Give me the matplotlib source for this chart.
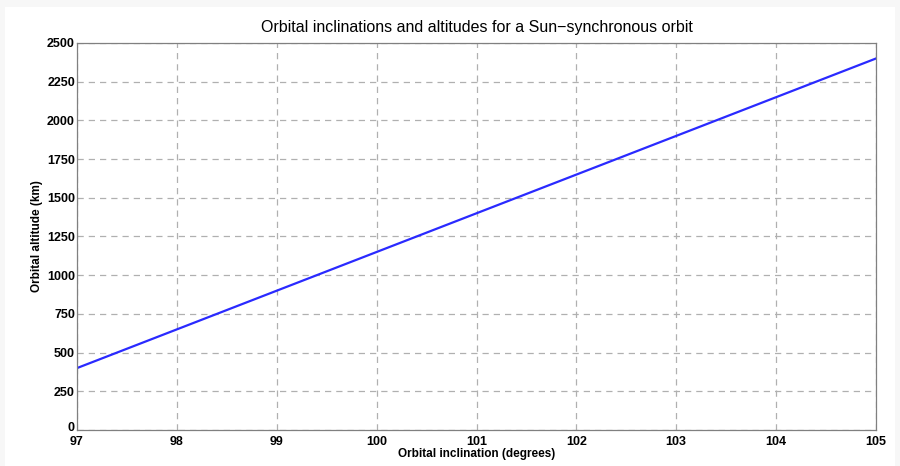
import matplotlib
matplotlib.use("Agg")
import matplotlib.pyplot as plt
import matplotlib.transforms as mtransforms
from matplotlib.patches import Rectangle

# inclination (degrees) vs altitude (km)
inclination = [97, 98, 99, 100, 101, 102, 103, 104, 105]
altitude = [400, 650, 900, 1150, 1400, 1650, 1900, 2150, 2400]

xticks = [97, 98, 99, 100, 101, 102, 103, 104, 105]
yticks = [0, 250, 500, 750, 1000, 1250, 1500, 1750, 2000, 2250, 2500]

plt.rcParams['font.family'] = ['Liberation Sans', 'DejaVu Sans']

fig = plt.figure(figsize=(9, 4.66), dpi=100, facecolor='#f7f7f7')
# white page inside a thin grey margin
fig.patches.append(Rectangle((5/900, 0), 1 - 10/900, 1 - 7/466,
                             transform=fig.transFigure, facecolor='white',
                             edgecolor='none', zorder=-10))

ax = fig.add_axes([77/900, 1 - 430/466, (876-77)/900, (430-43)/466])
ax.set_zorder(5)
ax.plot(inclination, altitude, color='#2a2aff', lw=1.6)

ax.set_xlim(97, 105)
ax.set_ylim(0, 2500)
ax.set_xticks(xticks)
ax.set_yticks(yticks)
ax.set_xticklabels([str(t) for t in xticks], fontweight='bold', fontsize=9)
ax.set_yticklabels([str(t) for t in yticks], fontweight='bold', fontsize=9)
ax.tick_params(length=0)
ax.tick_params(axis='x', pad=4.5)
ax.tick_params(axis='y', pad=1.5)
ax.grid(True, color='#b0b0b0', linestyle=(0, (5, 4)), lw=0.9)
for s in ax.spines.values():
    s.set_color('#808080')
    s.set_linewidth(0.9)

# lift the "0" label a touch so it does not sit on top of "97"
zero_lab = ax.get_yticklabels()[0]
zero_lab.set_transform(zero_lab.get_transform() +
                       mtransforms.ScaledTranslation(0, 2.5/72, fig.dpi_scale_trans))

ax.set_title('Orbital inclinations and altitudes for a Sun\u2212synchronous orbit',
             fontsize=11.5, pad=8)
ax.set_xlabel('Orbital inclination (degrees)', fontweight='bold', fontsize=8.5, labelpad=0)
ax.set_ylabel('Orbital altitude (km)', fontweight='bold', fontsize=8.5, labelpad=3)

plt.savefig('out.png', dpi=100, facecolor=fig.get_facecolor())
